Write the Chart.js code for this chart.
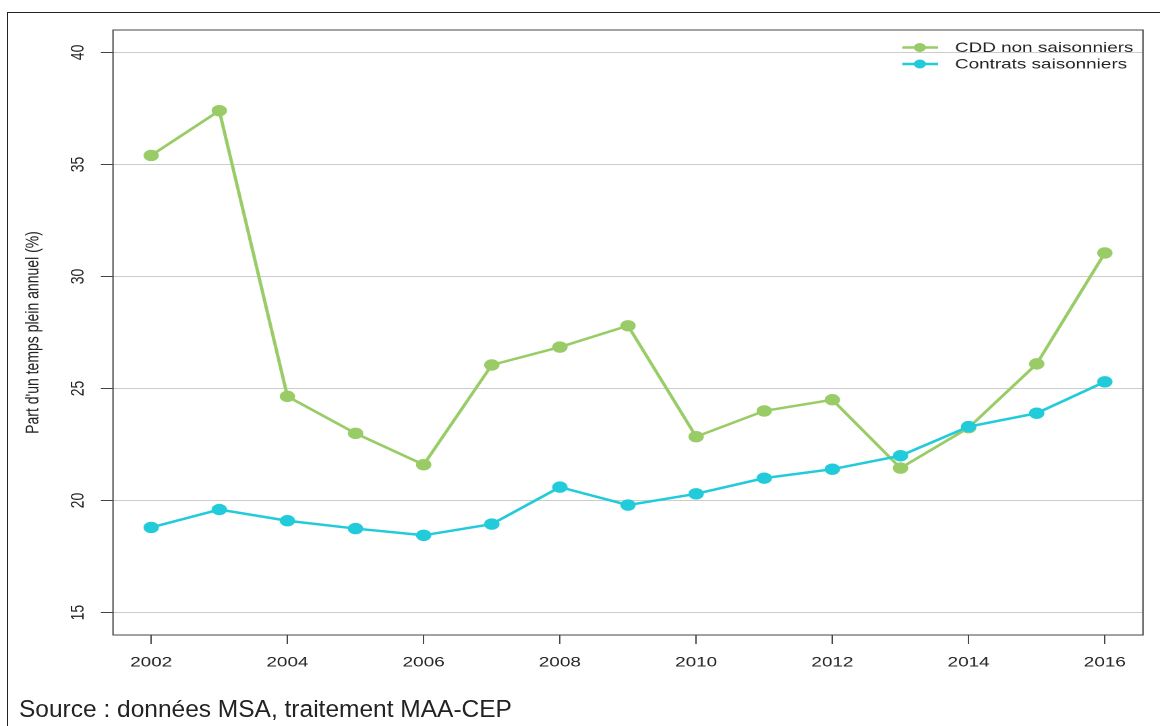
<!DOCTYPE html>
<html>
<head>
<meta charset="utf-8">
<script src="https://cdn.jsdelivr.net/npm/chart.js@4"></script>
<style>
html, body { margin: 0; padding: 0; background: #fff; width: 1160px; height: 726px; overflow: hidden; }
#frame { position: absolute; left: 7px; top: 12px; width: 1300px; height: 800px; border-left: 1px solid #222; border-top: 1px solid #222; }
/* the reference picture is stretched horizontally, so the chart is drawn narrow and scaled */
#wrap { position: absolute; left: 0; top: 0; width: 860px; height: 726px; transform-origin: 0 0; transform: scaleX(1.3488); }
#source { position: absolute; left: 19px; top: 697px; font: 24.5px "Liberation Sans", Arial, sans-serif; line-height: 24px; color: #222; white-space: nowrap; }
</style>
</head>
<body>
<div id="frame"></div>
<div id="wrap"><canvas id="chart" width="860" height="726"></canvas></div>
<div id="source">Source : données MSA, traitement MAA-CEP</div>
<script>
// données
const years = [2002, 2003, 2004, 2005, 2006, 2007, 2008, 2009, 2010, 2011, 2012, 2013, 2014, 2015, 2016];
const cddNonSaisonniers = [35.4, 37.4, 24.65, 23.0, 21.6, 26.05, 26.85, 27.8, 22.85, 24.0, 24.5, 21.45, 23.25, 26.1, 31.05];
const contratsSaisonniers = [18.8, 19.6, 19.1, 18.75, 18.45, 18.95, 20.6, 19.8, 20.3, 21.0, 21.4, 22.0, 23.3, 23.9, 25.3];
const seriesNames = ['CDD non saisonniers', 'Contrats saisonniers'];
const seriesColors = ['#99cc66', '#22cbd9'];
const xTicks = [2002, 2004, 2006, 2008, 2010, 2012, 2014, 2016];
const yTicks = [15, 20, 25, 30, 35, 40];

const FONT = '"Liberation Sans", Arial, sans-serif';

// cadre, étiquettes verticales de l'axe y et légende
const decor = {
    id: 'decor',
    afterDraw(chart) {
        const ctx = chart.ctx;
        const a = chart.chartArea;
        const y = chart.scales.y;
        ctx.save();
        ctx.strokeStyle = '#444';
        ctx.lineWidth = 1;
        ctx.strokeRect(a.left, a.top, a.right - a.left, a.bottom - a.top);

        ctx.fillStyle = '#222';
        ctx.font = '14px ' + FONT;
        ctx.textAlign = 'center';
        ctx.textBaseline = 'middle';
        yTicks.forEach(v => {
            ctx.save();
            ctx.translate(58, y.getPixelForValue(v));
            ctx.rotate(-Math.PI / 2);
            ctx.fillText(String(v), 0, 0);
            ctx.restore();
        });

        // légende
        const rows = [47.5, 64];
        ctx.textAlign = 'left';
        seriesNames.forEach((name, i) => {
            ctx.strokeStyle = seriesColors[i];
            ctx.lineWidth = 2.5;
            ctx.beginPath();
            ctx.moveTo(669, rows[i]);
            ctx.lineTo(695.5, rows[i]);
            ctx.stroke();
            ctx.fillStyle = seriesColors[i];
            ctx.beginPath();
            ctx.arc(682, rows[i], 4.5, 0, Math.PI * 2);
            ctx.fill();
            ctx.fillStyle = '#222';
            ctx.fillText(name, 708, rows[i] + 0.5);
        });
        ctx.restore();
    }
};

const toPoints = vals => years.map((x, i) => ({ x: x, y: vals[i] }));

const ctx = document.getElementById('chart').getContext('2d');
new Chart(ctx, {
    type: 'line',
    data: {
        datasets: [{
            label: seriesNames[0],
            data: toPoints(cddNonSaisonniers),
            borderColor: seriesColors[0],
            backgroundColor: seriesColors[0],
            pointBackgroundColor: seriesColors[0],
            borderWidth: 2.5,
            pointRadius: 5.7,
            pointBorderWidth: 0,
            tension: 0,
            order: 2
        }, {
            label: seriesNames[1],
            data: toPoints(contratsSaisonniers),
            borderColor: seriesColors[1],
            backgroundColor: seriesColors[1],
            pointBackgroundColor: seriesColors[1],
            borderWidth: 2.5,
            pointRadius: 5.7,
            pointBorderWidth: 0,
            tension: 0,
            order: 1
        }]
    },
    options: {
        responsive: false,
        animation: false,
        devicePixelRatio: 2,
        layout: { padding: { top: 30, right: 12.6, left: 0, bottom: 0 } },
        plugins: { legend: { display: false }, tooltip: { enabled: false } },
        scales: {
            x: {
                type: 'linear',
                min: 2001.44,
                max: 2016.56,
                afterBuildTicks: s => { s.ticks = xTicks.map(v => ({ value: v })); },
                afterFit: s => { s.height = 91; },
                grid: { drawOnChartArea: false, drawTicks: true, tickLength: 9, tickColor: '#444', tickWidth: 1 },
                border: { display: false },
                ticks: {
                    color: '#222',
                    font: { family: FONT, size: 14 },
                    padding: 10,
                    maxRotation: 0,
                    callback: v => String(v)
                }
            },
            y: {
                min: 14,
                max: 41,
                afterBuildTicks: s => { s.ticks = yTicks.map(v => ({ value: v })); },
                afterFit: s => { s.width = 83.8; },
                grid: { color: '#cccccc', lineWidth: 1, drawTicks: true, tickLength: 9, tickColor: '#444', tickWidth: 1 },
                border: { display: false },
                ticks: { color: 'rgba(0,0,0,0)', font: { family: FONT, size: 14 } },
                title: {
                    display: true,
                    text: "Part d'un temps plein annuel (%)",
                    color: '#222',
                    font: { family: FONT, size: 14 },
                    padding: { top: 16, bottom: 0 }
                }
            }
        }
    },
    plugins: [decor]
});
</script>
</body>
</html>
